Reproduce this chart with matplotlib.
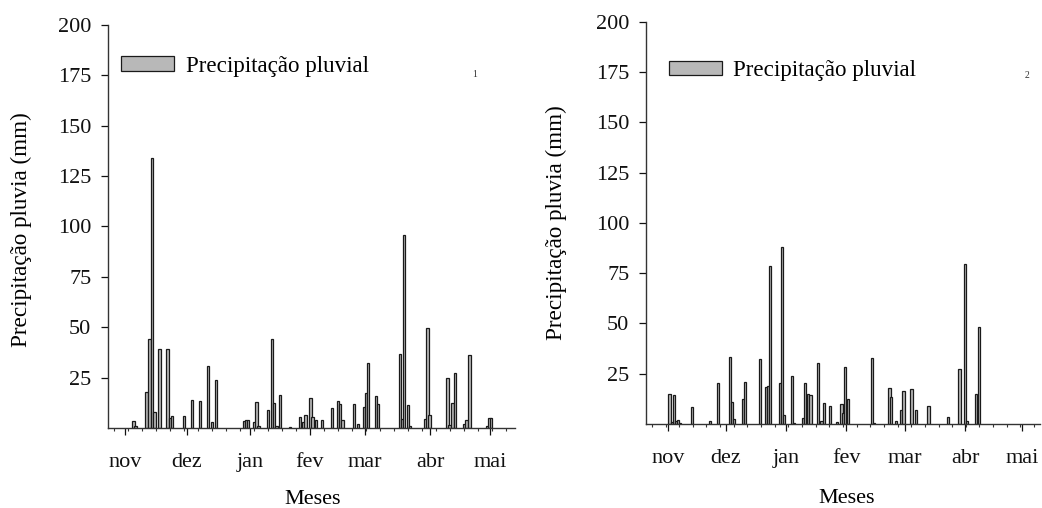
import matplotlib

matplotlib.use("Agg")
import matplotlib.pyplot as plt
import numpy as np

plt.rcParams["font.family"] = ["Liberation Serif", "DejaVu Serif"]

MONTHS = ["nov", "dez", "jan", "fev", "mar", "abr", "mai"]

# painel 1: dia (desde o inicio do eixo) e chuva (mm)
days_1 = [12.7, 13.7, 19.3, 20.7, 22.0, 23.2, 25.8, 29.8, 31.0, 32.0, 38.0, 42.0,
          46.0, 50.0, 52.0, 54.0, 68.0, 69.0, 70.0, 73.2, 74.2, 75.2, 80.0, 82.0,
          83.0, 84.2, 86.0, 91.0, 96.0, 97.7, 98.8, 101.3, 102.3, 104.0, 107.0,
          112.0, 115.0, 116.0, 117.3, 123.0, 125.0, 128.0, 129.0, 130.0, 134.0,
          135.0, 146.0, 147.0, 148.0, 150.0, 151.0, 158.7, 159.7, 160.8, 169.7,
          170.8, 172.3, 173.5, 178.0, 179.3, 180.7, 189.7, 190.7, 191.6]
rain_1 = [3.3, 1.0, 17.7, 44.0, 134.0, 7.8, 39.4, 39.4, 4.8, 6.0, 6.0, 13.9,
          13.4, 30.9, 3.0, 23.7, 3.5, 4.0, 4.0, 3.0, 12.7, 1.0, 8.8, 44.0,
          12.2, 1.0, 16.2, 0.5, 5.3, 3.0, 6.4, 14.7, 5.3, 4.0, 4.0,
          9.8, 13.4, 12.0, 4.0, 12.0, 2.0, 10.6, 17.2, 32.4, 16.0,
          12.0, 36.5, 4.5, 96.0, 11.4, 1.0, 4.5, 49.8, 6.3, 25.0,
          1.5, 12.2, 27.1, 2.0, 4.0, 36.0, 0.8, 5.0, 5.0]
month_pos_1 = [8.5, 39.5, 71.0, 101.0, 128.5, 161.0, 191.0]

# painel 2
days_2 = [12.0, 13.2, 14.4, 15.5, 16.5, 17.5, 23.4, 32.8, 36.9, 42.9, 44.0, 45.0,
          49.7, 50.9, 58.3, 61.6, 62.4, 63.6, 68.7, 69.7, 70.8, 74.9, 76.0, 80.5,
          81.7, 82.9, 84.3, 88.0, 90.0, 91.3, 94.4, 98.1, 100.2, 101.2, 102.2,
          103.6, 115.7, 116.8, 124.8, 125.8, 128.2, 130.8, 132.1, 136.2, 138.5,
          144.8, 155.0, 160.7, 163.4, 164.6, 169.4, 170.8]
rain_2 = [14.8, 1.0, 14.2, 1.5, 2.0, 0.5, 8.6, 1.3, 20.2, 33.1, 10.8, 2.3,
          12.3, 21.0, 32.3, 18.5, 19.0, 78.7, 20.2, 88.1, 4.5, 23.9, 0.5, 3.0,
          20.2, 14.8, 14.3, 30.1, 1.3, 10.3, 9.0, 1.2, 9.8, 5.3, 28.2,
          12.3, 32.6, 0.5, 17.7, 13.2, 1.3, 6.8, 16.4, 17.2, 6.8,
          9.0, 3.3, 27.2, 79.5, 1.3, 14.9, 48.1]
month_pos_2 = [11.3, 41.0, 71.8, 102.6, 132.8, 163.6, 192.8]

YTICKS = [25, 50, 75, 100, 125, 150, 175, 200]

fig = plt.figure(figsize=(10.42, 5.08), dpi=100)
ax1 = fig.add_axes([0.1036, 0.1575, 0.3906, 0.7933])
ax2 = fig.add_axes([0.620, 0.1654, 0.378, 0.7913])

panels = [
    (ax1, days_1, rain_1, month_pos_1, 203.5, "1", (0.032, 0.898), (0.902, 0.876),
     (-0.187, 0.491), (0.504, -0.153)),
    (ax2, days_2, rain_2, month_pos_2, 202.0, "2", (0.058, 0.879), (0.967, 0.868),
     (-0.2, 0.502), (0.51, -0.162)),
]

for ax, days, rain, mpos, xmax, tag, leg_xy, tag_xy, ylab_xy, xlab_xy in panels:
    ax.bar(days, rain, width=1.15, color="#b8b8b8", edgecolor="#1a1a1a",
           linewidth=0.9, label="Precipitação pluvial", zorder=2)
    ax.set_xlim(0, xmax)
    ax.set_ylim(0, 200)
    ax.set_yticks(YTICKS)
    ax.set_xticks(mpos)
    ax.set_xticklabels(MONTHS)
    ax.set_xticks(np.arange(3, xmax, 7), minor=True)
    for s in ("top", "right"):
        ax.spines[s].set_visible(False)
    for s in ("left", "bottom"):
        ax.spines[s].set_linewidth(1.0)
        ax.spines[s].set_color("#333333")
    ax.tick_params(axis="y", direction="out", length=5, width=0.9, pad=7,
                   labelsize=16, colors="#111111")
    ax.tick_params(axis="x", which="major", direction="out", length=5, width=0.9,
                   pad=13, labelsize=16, colors="#111111")
    ax.tick_params(axis="x", which="minor", direction="out", length=2.5, width=0.8,
                   colors="#333333")
    ax.set_ylabel("Precipitação pluvia (mm)", fontsize=16.7)
    ax.yaxis.set_label_coords(*ylab_xy)
    ax.set_xlabel("Meses", fontsize=16)
    ax.xaxis.set_label_coords(*xlab_xy)
    leg = ax.legend(loc="center left", bbox_to_anchor=leg_xy, frameon=False,
                    fontsize=16.6, handlelength=2.3, handleheight=0.6,
                    handletextpad=0.5, borderpad=0, borderaxespad=0)
    ax.text(tag_xy[0], tag_xy[1], tag, transform=ax.transAxes, fontsize=7,
            ha="center", va="center", color="#333333")

fig.savefig("out.png", dpi=100)
